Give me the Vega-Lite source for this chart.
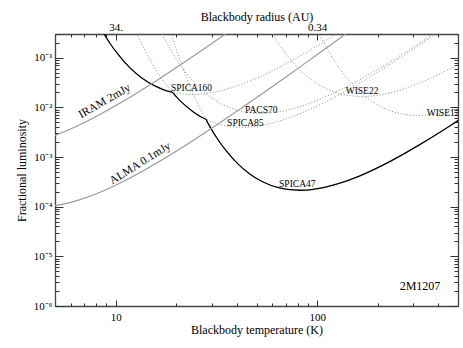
{
  "$schema": "https://vega.github.io/schema/vega-lite/v6.json",
  "width": 403,
  "height": 272,
  "autosize": {"type": "none"},
  "padding": {"left": 55, "top": 34, "right": 5, "bottom": 42},
  "background": "white",
  "config": {
    "view": {"stroke": null},
    "font": "Liberation Serif",
    "axis": {
      "grid": false,
      "domainColor": "#444",
      "domainWidth": 1.3,
      "tickColor": "#333",
      "tickWidth": 1,
      "labelFont": "Liberation Serif",
      "labelFontSize": 11,
      "labelColor": "#000",
      "titleFont": "Liberation Serif",
      "titleFontSize": 12,
      "titleFontWeight": "normal",
      "titleColor": "#000",
      "labelOverlap": false,
      "labelFlush": false
    }
  },
  "datasets": {
    "dotted": [
      {"curve": "SPICA160", "T": 7.83, "f": 0.682},
      {"curve": "SPICA160", "T": 8.55, "f": 0.356},
      {"curve": "SPICA160", "T": 9.40, "f": 0.191},
      {"curve": "SPICA160", "T": 10.45, "f": 0.1074},
      {"curve": "SPICA160", "T": 11.75, "f": 0.0632},
      {"curve": "SPICA160", "T": 13.43, "f": 0.0396},
      {"curve": "SPICA160", "T": 15.67, "f": 0.0270},
      {"curve": "SPICA160", "T": 18.79, "f": 0.0205},
      {"curve": "SPICA160", "T": 20.89, "f": 0.0189},
      {"curve": "SPICA160", "T": 23.99, "f": 0.0182},
      {"curve": "SPICA160", "T": 26.85, "f": 0.0186},
      {"curve": "SPICA160", "T": 31.33, "f": 0.0205},
      {"curve": "SPICA160", "T": 37.58, "f": 0.0249},
      {"curve": "SPICA160", "T": 46.99, "f": 0.0347},
      {"curve": "SPICA160", "T": 62.66, "f": 0.0597},
      {"curve": "SPICA160", "T": 78.3, "f": 0.0973},
      {"curve": "SPICA160", "T": 93.97, "f": 0.149},
      {"curve": "SPICA160", "T": 134.3, "f": 0.367},
      {"curve": "SPICA160", "T": 187.9, "f": 0.902},

      {"curve": "SPICA85", "T": 11.89, "f": 0.596},
      {"curve": "SPICA85", "T": 12.79, "f": 0.294},
      {"curve": "SPICA85", "T": 13.87, "f": 0.149},
      {"curve": "SPICA85", "T": 15.14, "f": 0.0778},
      {"curve": "SPICA85", "T": 16.63, "f": 0.0419},
      {"curve": "SPICA85", "T": 18.49, "f": 0.0235},
      {"curve": "SPICA85", "T": 20.80, "f": 0.0138},
      {"curve": "SPICA85", "T": 23.77, "f": 0.00867},
      {"curve": "SPICA85", "T": 27.73, "f": 0.00590},
      {"curve": "SPICA85", "T": 33.27, "f": 0.00449},
      {"curve": "SPICA85", "T": 36.98, "f": 0.00413},
      {"curve": "SPICA85", "T": 42.46, "f": 0.00398},
      {"curve": "SPICA85", "T": 47.53, "f": 0.00406},
      {"curve": "SPICA85", "T": 55.46, "f": 0.00448},
      {"curve": "SPICA85", "T": 66.53, "f": 0.00545},
      {"curve": "SPICA85", "T": 83.18, "f": 0.00759},
      {"curve": "SPICA85", "T": 110.9, "f": 0.01306},
      {"curve": "SPICA85", "T": 138.7, "f": 0.02128},
      {"curve": "SPICA85", "T": 166.3, "f": 0.03266},
      {"curve": "SPICA85", "T": 237.7, "f": 0.0802},
      {"curve": "SPICA85", "T": 332.7, "f": 0.197},
      {"curve": "SPICA85", "T": 415.9, "f": 0.366},
      {"curve": "SPICA85", "T": 554.6, "f": 0.820},

      {"curve": "PACS70", "T": 15.78, "f": 0.561},
      {"curve": "PACS70", "T": 17.10, "f": 0.284},
      {"curve": "PACS70", "T": 18.66, "f": 0.148},
      {"curve": "PACS70", "T": 20.51, "f": 0.0798},
      {"curve": "PACS70", "T": 22.80, "f": 0.0448},
      {"curve": "PACS70", "T": 25.64, "f": 0.0264},
      {"curve": "PACS70", "T": 29.31, "f": 0.0165},
      {"curve": "PACS70", "T": 34.20, "f": 0.01125},
      {"curve": "PACS70", "T": 41.02, "f": 0.00855},
      {"curve": "PACS70", "T": 45.60, "f": 0.00787},
      {"curve": "PACS70", "T": 52.36, "f": 0.00759},
      {"curve": "PACS70", "T": 58.61, "f": 0.00774},
      {"curve": "PACS70", "T": 68.39, "f": 0.00853},
      {"curve": "PACS70", "T": 82.04, "f": 0.01038},
      {"curve": "PACS70", "T": 102.6, "f": 0.01445},
      {"curve": "PACS70", "T": 136.8, "f": 0.0249},
      {"curve": "PACS70", "T": 171.0, "f": 0.0406},
      {"curve": "PACS70", "T": 205.1, "f": 0.0622},
      {"curve": "PACS70", "T": 293.1, "f": 0.153},
      {"curve": "PACS70", "T": 410.2, "f": 0.376},
      {"curve": "PACS70", "T": 512.9, "f": 0.697},

      {"curve": "SPICA47", "T": 17.86, "f": 0.640},
      {"curve": "SPICA47", "T": 20.09, "f": 0.139},
      {"curve": "SPICA47", "T": 22.96, "f": 0.0321},
      {"curve": "SPICA47", "T": 24.72, "f": 0.01585},
      {"curve": "SPICA47", "T": 26.79, "f": 0.00804},
      {"curve": "SPICA47", "T": 29.24, "f": 0.00419},
      {"curve": "SPICA47", "T": 32.14, "f": 0.002254},
      {"curve": "SPICA47", "T": 35.73, "f": 0.001265},
      {"curve": "SPICA47", "T": 40.18, "f": 0.000745},
      {"curve": "SPICA47", "T": 45.92, "f": 0.000467},
      {"curve": "SPICA47", "T": 53.58, "f": 0.000318},
      {"curve": "SPICA47", "T": 64.27, "f": 0.0002415},
      {"curve": "SPICA47", "T": 71.45, "f": 0.0002223},
      {"curve": "SPICA47", "T": 82.04, "f": 0.0002143},
      {"curve": "SPICA47", "T": 91.83, "f": 0.0002188},
      {"curve": "SPICA47", "T": 107.2, "f": 0.000241},
      {"curve": "SPICA47", "T": 128.5, "f": 0.000293},
      {"curve": "SPICA47", "T": 160.7, "f": 0.000408},
      {"curve": "SPICA47", "T": 214.3, "f": 0.000703},
      {"curve": "SPICA47", "T": 267.9, "f": 0.001146},
      {"curve": "SPICA47", "T": 321.4, "f": 0.001758},
      {"curve": "SPICA47", "T": 459.2, "f": 0.00432},
      {"curve": "SPICA47", "T": 642.7, "f": 0.01062},

      {"curve": "WISE22", "T": 54.58, "f": 0.622},
      {"curve": "WISE22", "T": 59.57, "f": 0.324},
      {"curve": "WISE22", "T": 65.46, "f": 0.1746},
      {"curve": "WISE22", "T": 72.78, "f": 0.0979},
      {"curve": "WISE22", "T": 81.85, "f": 0.0577},
      {"curve": "WISE22", "T": 93.54, "f": 0.0361},
      {"curve": "WISE22", "T": 109.1, "f": 0.0246},
      {"curve": "WISE22", "T": 130.9, "f": 0.0187},
      {"curve": "WISE22", "T": 145.5, "f": 0.0172},
      {"curve": "WISE22", "T": 167.1, "f": 0.0166},
      {"curve": "WISE22", "T": 187.1, "f": 0.01694},
      {"curve": "WISE22", "T": 218.3, "f": 0.01866},
      {"curve": "WISE22", "T": 261.8, "f": 0.0227},
      {"curve": "WISE22", "T": 327.3, "f": 0.0316},
      {"curve": "WISE22", "T": 436.5, "f": 0.0545},
      {"curve": "WISE22", "T": 545.8, "f": 0.0887},

      {"curve": "WISE12", "T": 89.54, "f": 1.028},
      {"curve": "WISE12", "T": 96.38, "f": 0.508},
      {"curve": "WISE12", "T": 104.5, "f": 0.2576},
      {"curve": "WISE12", "T": 114.0, "f": 0.1343},
      {"curve": "WISE12", "T": 125.3, "f": 0.0723},
      {"curve": "WISE12", "T": 139.3, "f": 0.0406},
      {"curve": "WISE12", "T": 156.7, "f": 0.0239},
      {"curve": "WISE12", "T": 179.1, "f": 0.01496},
      {"curve": "WISE12", "T": 208.9, "f": 0.01019},
      {"curve": "WISE12", "T": 250.6, "f": 0.00774},
      {"curve": "WISE12", "T": 278.6, "f": 0.00713},
      {"curve": "WISE12", "T": 319.9, "f": 0.00687},
      {"curve": "WISE12", "T": 358.1, "f": 0.00701},
      {"curve": "WISE12", "T": 417.8, "f": 0.00773},
      {"curve": "WISE12", "T": 501.2, "f": 0.00940},
      {"curve": "WISE12", "T": 626.6, "f": 0.01309}
    ],
    "envelope": [
      {"seg": "a", "T": 7.83, "f": 0.682},
      {"seg": "a", "T": 8.55, "f": 0.356},
      {"seg": "a", "T": 9.40, "f": 0.191},
      {"seg": "a", "T": 10.45, "f": 0.1074},
      {"seg": "a", "T": 11.75, "f": 0.0632},
      {"seg": "a", "T": 13.43, "f": 0.0396},
      {"seg": "a", "T": 15.67, "f": 0.0270},
      {"seg": "a", "T": 18.79, "f": 0.0205},
      {"seg": "a", "T": 19.1, "f": 0.0203},
      {"seg": "b", "T": 19.1, "f": 0.0203},
      {"seg": "b", "T": 20.80, "f": 0.0138},
      {"seg": "b", "T": 23.77, "f": 0.00867},
      {"seg": "b", "T": 27.73, "f": 0.00590},
      {"seg": "b", "T": 28.0, "f": 0.00581},
      {"seg": "c", "T": 28.0, "f": 0.00581},
      {"seg": "c", "T": 29.24, "f": 0.00419},
      {"seg": "c", "T": 32.14, "f": 0.002254},
      {"seg": "c", "T": 35.73, "f": 0.001265},
      {"seg": "c", "T": 40.18, "f": 0.000745},
      {"seg": "c", "T": 45.92, "f": 0.000467},
      {"seg": "c", "T": 53.58, "f": 0.000318},
      {"seg": "c", "T": 64.27, "f": 0.0002415},
      {"seg": "c", "T": 71.45, "f": 0.0002223},
      {"seg": "c", "T": 82.04, "f": 0.0002143},
      {"seg": "c", "T": 91.83, "f": 0.0002188},
      {"seg": "c", "T": 107.2, "f": 0.000241},
      {"seg": "c", "T": 128.5, "f": 0.000293},
      {"seg": "c", "T": 160.7, "f": 0.000408},
      {"seg": "c", "T": 214.3, "f": 0.000703},
      {"seg": "c", "T": 267.9, "f": 0.001146},
      {"seg": "c", "T": 321.4, "f": 0.001758},
      {"seg": "c", "T": 459.2, "f": 0.00432},
      {"seg": "c", "T": 642.7, "f": 0.01062}
    ],
    "mm": [
      {"curve": "IRAM 2mJy", "T": 4.416, "f": 0.002286},
      {"curve": "IRAM 2mJy", "T": 5.521, "f": 0.003184},
      {"curve": "IRAM 2mJy", "T": 7.362, "f": 0.005483},
      {"curve": "IRAM 2mJy", "T": 9.204, "f": 0.008933},
      {"curve": "IRAM 2mJy", "T": 11.04, "f": 0.01371},
      {"curve": "IRAM 2mJy", "T": 15.78, "f": 0.03370},
      {"curve": "IRAM 2mJy", "T": 22.08, "f": 0.08279},
      {"curve": "IRAM 2mJy", "T": 27.61, "f": 0.1535},
      {"curve": "IRAM 2mJy", "T": 36.81, "f": 0.3443},
      {"curve": "IRAM 2mJy", "T": 44.16, "f": 0.5808},
      {"curve": "ALMA 0.1mJy", "T": 4.217, "f": 0.0001},
      {"curve": "ALMA 0.1mJy", "T": 4.721, "f": 0.0001021},
      {"curve": "ALMA 0.1mJy", "T": 5.508, "f": 0.0001125},
      {"curve": "ALMA 0.1mJy", "T": 6.607, "f": 0.0001368},
      {"curve": "ALMA 0.1mJy", "T": 8.260, "f": 0.0001905},
      {"curve": "ALMA 0.1mJy", "T": 11.02, "f": 0.0003281},
      {"curve": "ALMA 0.1mJy", "T": 13.77, "f": 0.0005346},
      {"curve": "ALMA 0.1mJy", "T": 16.52, "f": 0.0008204},
      {"curve": "ALMA 0.1mJy", "T": 23.61, "f": 0.002016},
      {"curve": "ALMA 0.1mJy", "T": 33.04, "f": 0.004955},
      {"curve": "ALMA 0.1mJy", "T": 41.30, "f": 0.009183},
      {"curve": "ALMA 0.1mJy", "T": 55.08, "f": 0.02061},
      {"curve": "ALMA 0.1mJy", "T": 66.07, "f": 0.03475},
      {"curve": "ALMA 0.1mJy", "T": 82.60, "f": 0.06607},
      {"curve": "ALMA 0.1mJy", "T": 110.2, "f": 0.1528},
      {"curve": "ALMA 0.1mJy", "T": 165.2, "f": 0.5023}
    ],
    "curveLabels": [
      {"label": "SPICA160", "T": 23.8, "f": 0.0209},
      {"label": "PACS70", "T": 52.8, "f": 0.00753},
      {"label": "SPICA85", "T": 44.0, "f": 0.00412},
      {"label": "SPICA47", "T": 79.7, "f": 0.000248},
      {"label": "WISE22", "T": 167, "f": 0.0182},
      {"label": "WISE12", "T": 421.7, "f": 0.00656}
    ]
  },
  "resolve": {"axis": {"x": "independent", "y": "independent"}},
  "layer": [
    {
      "data": {"name": "dotted"},
      "mark": {"type": "line", "stroke": "#8a8a8a", "strokeWidth": 1, "strokeDash": [1, 2], "interpolate": "monotone", "clip": true},
      "encoding": {
        "x": {
          "field": "T", "type": "quantitative",
          "scale": {"type": "log", "domain": [5, 500], "nice": false},
          "axis": {
            "orient": "bottom",
            "values": [10, 100],
            "labelExpr": "datum.value == 10 ? '10' : '100'",
            "ticks": false,
            "tickSize": 0,
            "labelPadding": 5,
            "title": "Blackbody temperature (K)",
            "titlePadding": 2
          }
        },
        "y": {
          "field": "f", "type": "quantitative",
          "scale": {"type": "log", "domain": [0.000001, 0.3], "nice": false},
          "axis": {
            "orient": "left",
            "values": [0.000001, 0.00001, 0.0001, 0.001, 0.01, 0.1],
            "labelExpr": "datum.value == 0.1 ? '10⁻¹' : datum.value == 0.01 ? '10⁻²' : datum.value == 0.001 ? '10⁻³' : datum.value == 0.0001 ? '10⁻⁴' : datum.value == 0.00001 ? '10⁻⁵' : '10⁻⁶'",
            "ticks": false,
            "tickSize": 0,
            "labelPadding": 3,
            "title": "Fractional luminosity",
            "titlePadding": 5
          }
        },
        "detail": {"field": "curve"}
      }
    },
    {
      "data": {"name": "envelope"},
      "mark": {"type": "line", "stroke": "#000", "strokeWidth": 1.3, "interpolate": "monotone", "clip": true},
      "encoding": {
        "x": {
          "field": "T", "type": "quantitative",
          "scale": {"type": "log", "domain": [5, 500], "nice": false},
          "axis": {
            "orient": "top",
            "values": [10, 100],
            "labelExpr": "datum.value == 10 ? '34.' : '0.34'",
            "ticks": false,
            "tickSize": 0,
            "labelPadding": 2,
            "title": "Blackbody radius (AU)",
            "titleX": 201.5,
            "titleY": -14,
            "titleAlign": "center",
            "titleBaseline": "alphabetic"
          }
        },
        "y": {
          "field": "f", "type": "quantitative",
          "scale": {"type": "log", "domain": [0.000001, 0.3], "nice": false},
          "axis": {
            "orient": "right",
            "values": [0.000001, 0.00001, 0.0001, 0.001, 0.01, 0.1],
            "labels": false,
            "ticks": false,
            "tickSize": 0,
            "title": null
          }
        },
        "detail": {"field": "seg"}
      }
    },
    {
      "data": {"name": "mm"},
      "mark": {"type": "line", "stroke": "#9a9a9a", "strokeWidth": 1.2, "interpolate": "monotone", "clip": true},
      "encoding": {
        "x": {
          "field": "T", "type": "quantitative",
          "scale": {"type": "log", "domain": [5, 500], "nice": false},
          "axis": {"orient": "bottom", "values": [10, 100], "domain": false, "labels": false, "ticks": true, "tickSize": 6, "offset": -6, "title": null}
        },
        "y": {
          "field": "f", "type": "quantitative",
          "scale": {"type": "log", "domain": [0.000001, 0.3], "nice": false},
          "axis": {"orient": "left", "values": [0.000001, 0.00001, 0.0001, 0.001, 0.01, 0.1], "domain": false, "labels": false, "ticks": true, "tickSize": 8, "offset": -8, "title": null}
        },
        "detail": {"field": "curve"}
      }
    },
    {
      "data": {"name": "curveLabels"},
      "mark": {"type": "text", "font": "Liberation Serif", "fontSize": 9.5, "align": "center", "baseline": "alphabetic", "color": "#000", "clip": true},
      "encoding": {
        "x": {
          "field": "T", "type": "quantitative",
          "scale": {"type": "log", "domain": [5, 500], "nice": false},
          "axis": {"orient": "bottom", "values": [5, 6, 7, 8, 9, 20, 30, 40, 50, 60, 70, 80, 90, 200, 300, 400, 500], "domain": false, "labels": false, "ticks": true, "tickSize": 3, "offset": -3, "title": null}
        },
        "y": {
          "field": "f", "type": "quantitative",
          "scale": {"type": "log", "domain": [0.000001, 0.3], "nice": false},
          "axis": {"orient": "left", "values": [2e-6, 3e-6, 4e-6, 5e-6, 6e-6, 7e-6, 8e-6, 9e-6, 2e-5, 3e-5, 4e-5, 5e-5, 6e-5, 7e-5, 8e-5, 9e-5, 0.0002, 0.0003, 0.0004, 0.0005, 0.0006, 0.0007, 0.0008, 0.0009, 0.002, 0.003, 0.004, 0.005, 0.006, 0.007, 0.008, 0.009, 0.02, 0.03, 0.04, 0.05, 0.06, 0.07, 0.08, 0.09, 0.2, 0.3], "domain": false, "labels": false, "ticks": true, "tickSize": 4, "offset": -4, "title": null}
        },
        "text": {"field": "label"}
      }
    },
    {
      "data": {"values": [{"label": "2M1207", "T": 324, "f": 0.00000213}]},
      "mark": {"type": "text", "font": "Liberation Serif", "fontSize": 12, "align": "center", "baseline": "alphabetic", "color": "#000"},
      "encoding": {
        "x": {
          "field": "T", "type": "quantitative",
          "scale": {"type": "log", "domain": [5, 500], "nice": false},
          "axis": {"orient": "top", "values": [10, 100], "domain": false, "labels": false, "ticks": true, "tickSize": 6, "offset": -6, "title": null}
        },
        "y": {
          "field": "f", "type": "quantitative",
          "scale": {"type": "log", "domain": [0.000001, 0.3], "nice": false},
          "axis": {"orient": "right", "values": [0.000001, 0.00001, 0.0001, 0.001, 0.01, 0.1], "domain": false, "labels": false, "ticks": true, "tickSize": 8, "offset": -8, "title": null}
        },
        "text": {"field": "label"}
      }
    },
    {
      "data": {"values": [{"label": "IRAM 2mJy", "T": 6.75, "f": 0.00597}]},
      "mark": {"type": "text", "font": "Liberation Serif", "fontSize": 11.5, "align": "left", "baseline": "alphabetic", "angle": 330, "color": "#000"},
      "encoding": {
        "x": {
          "field": "T", "type": "quantitative",
          "scale": {"type": "log", "domain": [5, 500], "nice": false},
          "axis": {"orient": "top", "values": [5, 6, 7, 8, 9, 20, 30, 40, 50, 60, 70, 80, 90, 200, 300, 400, 500], "domain": false, "labels": false, "ticks": true, "tickSize": 3, "offset": -3, "title": null}
        },
        "y": {
          "field": "f", "type": "quantitative",
          "scale": {"type": "log", "domain": [0.000001, 0.3], "nice": false},
          "axis": {"orient": "right", "values": [2e-6, 3e-6, 4e-6, 5e-6, 6e-6, 7e-6, 8e-6, 9e-6, 2e-5, 3e-5, 4e-5, 5e-5, 6e-5, 7e-5, 8e-5, 9e-5, 0.0002, 0.0003, 0.0004, 0.0005, 0.0006, 0.0007, 0.0008, 0.0009, 0.002, 0.003, 0.004, 0.005, 0.006, 0.007, 0.008, 0.009, 0.02, 0.03, 0.04, 0.05, 0.06, 0.07, 0.08, 0.09, 0.2, 0.3], "domain": false, "labels": false, "ticks": true, "tickSize": 4, "offset": -4, "title": null}
        },
        "text": {"field": "label"}
      }
    },
    {
      "data": {"values": [{"label": "ALMA 0.1mJy", "T": 9.63, "f": 0.000279}]},
      "mark": {"type": "text", "font": "Liberation Serif", "fontSize": 11.5, "align": "left", "baseline": "alphabetic", "angle": 328, "color": "#000"},
      "encoding": {
        "x": {"field": "T", "type": "quantitative", "scale": {"type": "log", "domain": [5, 500], "nice": false}, "axis": null},
        "y": {"field": "f", "type": "quantitative", "scale": {"type": "log", "domain": [0.000001, 0.3], "nice": false}, "axis": null},
        "text": {"field": "label"}
      }
    }
  ]
}
